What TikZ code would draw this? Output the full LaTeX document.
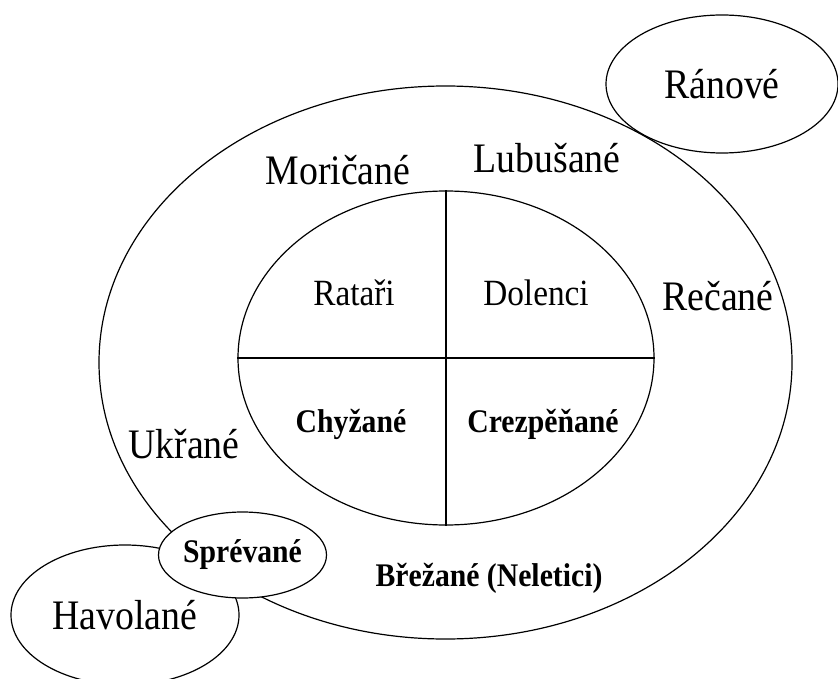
\documentclass[tikz,border=0pt]{standalone}
\usepackage{fontspec}
\setmainfont{Liberation Serif}[FakeStretch=0.9]
\usepackage{tikz}
\usetikzlibrary{shapes.geometric}

\tikzset{
  ring/.style={ellipse, draw, line width=0.6pt, inner sep=0pt},
  bigtext/.style={font=\fontsize{21}{24}\selectfont},
  midtext/.style={font=\fontsize{18.5}{22}\selectfont},
  smalltext/.style={font=\bfseries\fontsize{16.5}{20}\selectfont},
}

\begin{document}
\begin{tikzpicture}[x=0.5pt, y=-0.5pt]
    \useasboundingbox (0,0) rectangle (838,678);

    \node[ring, minimum width=346.5pt, minimum height=276.5pt] (outer) at (445.5,362.5) {};
    \node[ring, minimum width=208pt, minimum height=167pt] (inner) at (446,358) {};

    \path[draw, line width=0.6pt]
    (inner.north) -- (inner.south)
    (inner.west) -- (inner.east);

    \node[ring, bigtext, minimum width=116pt, minimum height=69pt] (ranove) at (722,84) {Ránové};
    \node[ring, bigtext, minimum width=114pt, minimum height=70pt] (havolane) at (125,615) {Havolané};
    \node[ring, smalltext, fill=white, minimum width=75.5pt, minimum height=43pt] (sprevane) at (242.5,555) {Sprévané};

    \node[bigtext, anchor=base] (moricane) at (338,185) {Moričané};
    \node[bigtext, anchor=base] (lubusane) at (547,173) {Lubušané};
    \node[bigtext, anchor=base] (recane) at (718,310) {Rečané};
    \node[bigtext, anchor=base] (ukrane) at (184,458) {Ukřané};
    \node[midtext, anchor=base] (ratari) at (354,305) {Rataři};
    \node[midtext, anchor=base] (dolenci) at (536,305) {Dolenci};
    \node[smalltext, anchor=base] (chyzane) at (351,432) {Chyžané};
    \node[smalltext, anchor=base] (crezpenane) at (543,432) {Crezpěňané};
    \node[smalltext, anchor=base] (brezane) at (489,586) {Břežané (Neletici)};
\end{tikzpicture}
\end{document}
